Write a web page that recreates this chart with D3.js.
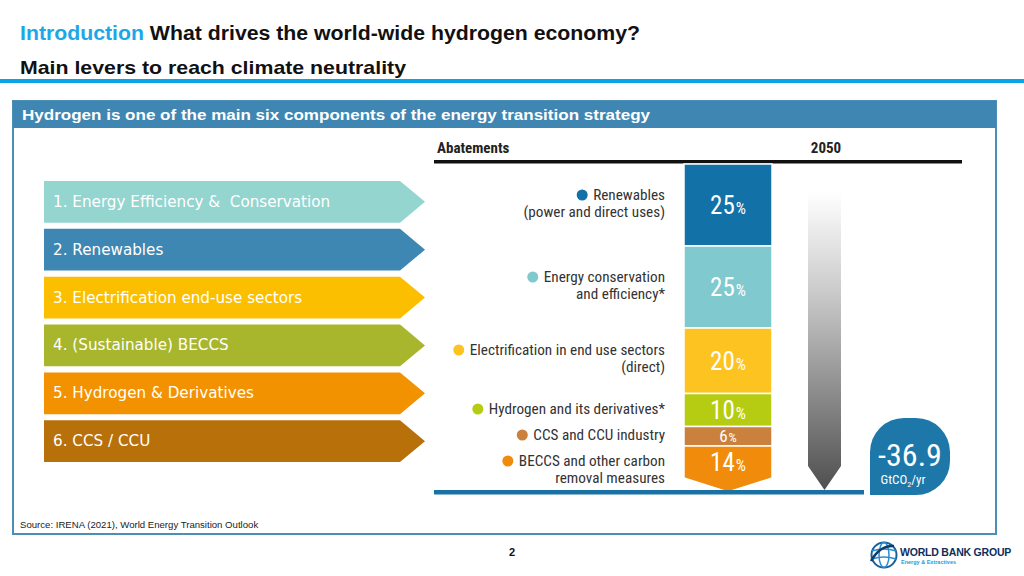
<!DOCTYPE html>
<html>
<head>
<meta charset="utf-8">
<script src="https://cdn.jsdelivr.net/npm/d3@7"></script>
<style>
  body { margin: 0; background: #fff; }
  svg { display: block; }
</style>
</head>
<body>
<svg id="chart" width="1024" height="576"></svg>
<script>
// levers on the left
var levers = [
  '1. Energy Efficiency &  Conservation',
  '2. Renewables',
  '3. Electrification end-use sectors',
  '4. (Sustainable) BECCS',
  '5. Hydrogen & Derivatives',
  '6. CCS / CCU'
];
var leverColors = ['#94d5cf', '#3f87b3', '#fcbf00', '#a7b62c', '#f39200', '#b8700a'];

// abatement shares in 2050
var categories = ['Renewables', 'Energy conservation', 'Electrification', 'Hydrogen', 'CCS and CCU', 'BECCS'];
var labelLines = [
  ['Renewables', '(power and direct uses)'],
  ['Energy conservation', 'and efficiency*'],
  ['Electrification in end use sectors', '(direct)'],
  ['Hydrogen and its derivatives*'],
  ['CCS and CCU industry'],
  ['BECCS and other carbon', 'removal measures']
];
var shares = [25, 25, 20, 10, 6, 14];
var shareColors = ['#1271a6', '#7fc9cf', '#fdc421', '#b6cc12', '#c9813d', '#f08b0c'];
var total = -36.9;

var svg = d3.select('#chart');
var condensed = '"Liberation Sans Narrow", "Roboto Condensed", "Roboto", sans-serif';
var arial = 'Liberation Sans, Arial, sans-serif';

// ---- header (slide text is stretched a bit wider than the font)
var title = svg.append('text').attr('x', 20).attr('y', 40)
  .attr('textLength', 620).attr('lengthAdjust', 'spacingAndGlyphs')
  .style('font-family', arial).style('font-weight', 'bold').style('font-size', '19.5px');
title.append('tspan').attr('fill', '#1ca7e6').text('Introduction ');
title.append('tspan').attr('fill', '#111').text('What drives the world-wide hydrogen economy?');

svg.append('text').attr('x', 20).attr('y', 74)
  .attr('textLength', 386).attr('lengthAdjust', 'spacingAndGlyphs')
  .style('font-family', arial).style('font-weight', 'bold').style('font-size', '18.5px')
  .attr('fill', '#111').text('Main levers to reach climate neutrality');

svg.append('rect').attr('x', 0).attr('y', 79).attr('width', 1024).attr('height', 4).attr('fill', '#0aa5e6');

// ---- panel
svg.append('rect').attr('x', 13).attr('y', 101).attr('width', 983).attr('height', 433)
  .attr('fill', '#fff').attr('stroke', '#4b8fb6').attr('stroke-width', 2);
svg.append('rect').attr('x', 13).attr('y', 101).attr('width', 983).attr('height', 27).attr('fill', '#3f86b2');
svg.append('text').attr('x', 22).attr('y', 120)
  .attr('textLength', 628).attr('lengthAdjust', 'spacingAndGlyphs')
  .style('font-family', arial).style('font-weight', 'bold').style('font-size', '15.5px')
  .attr('fill', '#fff').text('Hydrogen is one of the main six components of the energy transition strategy');

svg.append('text').attr('x', 20).attr('y', 528)
  .style('font-family', arial).style('font-size', '9.6px')
  .attr('fill', '#222').text('Source: IRENA (2021), World Energy Transition Outlook');

svg.append('text').attr('x', 512).attr('y', 556).attr('text-anchor', 'middle')
  .style('font-family', arial).style('font-weight', 'bold').style('font-size', '11px')
  .attr('fill', '#111').text('2');

// ---- left arrows
var yLever = d3.scaleBand().domain(levers).range([181, 462]).paddingInner(0.13);
var ax0 = 44, ax1 = 400, axTip = 425;
var lv = svg.append('g').selectAll('g').data(levers).enter().append('g');
lv.append('path').attr('fill', function(d, i) { return leverColors[i]; })
  .attr('d', function(d) {
    var y0 = yLever(d), h = yLever.bandwidth();
    return 'M' + ax0 + ',' + y0 + 'L' + ax1 + ',' + y0 + 'L' + axTip + ',' + (y0 + h / 2) +
      'L' + ax1 + ',' + (y0 + h) + 'L' + ax0 + ',' + (y0 + h) + 'Z';
  });
lv.append('text').attr('x', 53)
  .attr('y', function(d) { return yLever(d) + yLever.bandwidth() / 2 + 5; })
  .style('white-space', 'pre')
  .style('font-family', '"DejaVu Sans", Verdana, sans-serif').style('font-size', '15.2px')
  .attr('fill', '#fff').text(function(d) { return d; });

// ---- abatement chart
svg.append('text').attr('x', 437).attr('y', 153)
  .style('font-family', condensed).style('font-weight', 'bold').style('font-size', '15px')
  .attr('fill', '#222').text('Abatements');
svg.append('text').attr('x', 826).attr('y', 153).attr('text-anchor', 'middle')
  .style('font-family', condensed).style('font-weight', 'bold').style('font-size', '15px')
  .attr('fill', '#222').text('2050');
svg.append('rect').attr('x', 434).attr('y', 160).attr('width', 528).attr('height', 3.5).attr('fill', '#111');

var y = d3.scaleLinear().domain([0, 100]).range([164, 492]);
var stackData = [{}];
categories.forEach(function(c, i) { stackData[0][c] = shares[i]; });
var series = d3.stack().keys(categories)(stackData);

var bx0 = 684, bx1 = 772, bmid = (bx0 + bx1) / 2, chev = 14;
var bar = svg.append('g');
bar.selectAll('path').data(series).enter().append('path')
  .attr('fill', function(d, i) { return shareColors[i]; })
  .attr('stroke', '#fff').attr('stroke-width', 1.5)
  .attr('d', function(d, i) {
    var t = y(d[0][0]), b = y(d[0][1]);
    if (i === series.length - 1) {
      return 'M' + bx0 + ',' + t + 'L' + bx1 + ',' + t + 'L' + bx1 + ',' + (b - chev) +
        'L' + bmid + ',' + b + 'L' + bx0 + ',' + (b - chev) + 'Z';
    }
    return 'M' + bx0 + ',' + t + 'L' + bx1 + ',' + t + 'L' + bx1 + ',' + b + 'L' + bx0 + ',' + b + 'Z';
  });

var pct = bar.selectAll('text').data(series).enter().append('text')
  .attr('x', bmid).attr('text-anchor', 'middle')
  .attr('y', function(d, i) {
    var m = (y(d[0][0]) + y(d[0][1])) / 2;
    if (i === series.length - 1) m -= 7;
    return m + (shares[i] < 8 ? 6 : 9);
  })
  .style('font-family', condensed).attr('fill', '#fff')
  .style('font-size', function(d, i) { return shares[i] < 8 ? '17px' : '25px'; });
pct.append('tspan').text(function(d, i) { return shares[i]; });
pct.append('tspan').style('font-size', function(d, i) { return shares[i] < 8 ? '13px' : '16px'; })
  .attr('dx', 1).text('%');

// legend labels right-aligned next to the bar
var labelY = [200, 282, 355, 414, 440, 466];
var lab = svg.append('g').selectAll('g').data(categories).enter().append('g');
lab.append('text').attr('text-anchor', 'end')
  .style('font-family', condensed).style('font-size', '15.2px').attr('fill', '#333')
  .each(function(d, i) {
    var t = d3.select(this);
    labelLines[i].forEach(function(line, k) {
      t.append('tspan').attr('x', 665).attr('y', labelY[i] + k * 16.5).text(line);
    });
  });
lab.each(function(d, i) {
  var w = d3.select(this).select('tspan').node().getComputedTextLength();
  d3.select(this).append('circle').attr('cx', 665 - w - 11).attr('cy', labelY[i] - 5)
    .attr('r', 5.5).attr('fill', shareColors[i]);
});

// baseline
svg.append('rect').attr('x', 434).attr('y', 490).attr('width', 430).attr('height', 4.5).attr('fill', '#1a72a4');

// grey gradient arrow
var defs = svg.append('defs');
var grad = defs.append('linearGradient').attr('id', 'grey').attr('x1', 0).attr('y1', 0).attr('x2', 0).attr('y2', 1);
grad.append('stop').attr('offset', '0%').attr('stop-color', '#ffffff');
grad.append('stop').attr('offset', '35%').attr('stop-color', '#c8c8c8');
grad.append('stop').attr('offset', '100%').attr('stop-color', '#4f4f4f');
var gx0 = 808, gx1 = 841, gt = 192, gb = 490;
svg.append('path').attr('fill', 'url(#grey)')
  .attr('d', 'M' + gx0 + ',' + gt + 'L' + gx1 + ',' + gt + 'L' + gx1 + ',' + (gb - 24) +
    'L' + (gx0 + gx1) / 2 + ',' + gb + 'L' + gx0 + ',' + (gb - 24) + 'Z');

// total badge
svg.append('path').attr('fill', '#1d77a8')
  .attr('d', 'M870,495L870,452A34,34 0 0 1 904,418L916,418A34,34 0 0 1 950,452L950,461A34,34 0 0 1 916,495Z');
svg.append('text').attr('x', 910).attr('y', 466).attr('text-anchor', 'middle')
  .style('font-family', condensed).style('font-size', '32px').attr('fill', '#fff').text(total);
var unit = svg.append('text').attr('x', 903).attr('y', 484).attr('text-anchor', 'middle')
  .style('font-family', condensed).style('font-size', '13px').attr('fill', '#fff');
unit.append('tspan').text('GtCO');
unit.append('tspan').attr('dy', 3).style('font-size', '8px').text('2');
unit.append('tspan').attr('dy', -3).text('/yr');

// logo
var logo = svg.append('g').attr('transform', 'translate(884,555)');
logo.append('circle').attr('r', 12.5).attr('fill', 'none').attr('stroke', '#1a5f98').attr('stroke-width', 2);
logo.append('ellipse').attr('rx', 5).attr('ry', 12.5).attr('fill', 'none').attr('stroke', '#2a8fd0').attr('stroke-width', 1.5);
logo.append('path').attr('d', 'M-12,-4Q0,-8 12,-4M-12,4Q0,0 12,4').attr('fill', 'none').attr('stroke', '#2a8fd0').attr('stroke-width', 1.5);
logo.append('path').attr('d', 'M-13,6Q-4,-10 10,-9').attr('fill', 'none').attr('stroke', '#0d3c6e').attr('stroke-width', 2.5);
svg.append('text').attr('x', 900).attr('y', 556)
  .style('font-family', arial).style('font-weight', 'bold')
  .style('font-size', '10.5px').attr('fill', '#0c2e5c').style('letter-spacing', '-0.2px').text('WORLD BANK GROUP');
svg.append('text').attr('x', 901).attr('y', 564)
  .style('font-family', arial).style('font-weight', 'bold')
  .style('font-size', '5.5px').attr('fill', '#2a9ad8').text('Energy & Extractives');
</script>
</body>
</html>
